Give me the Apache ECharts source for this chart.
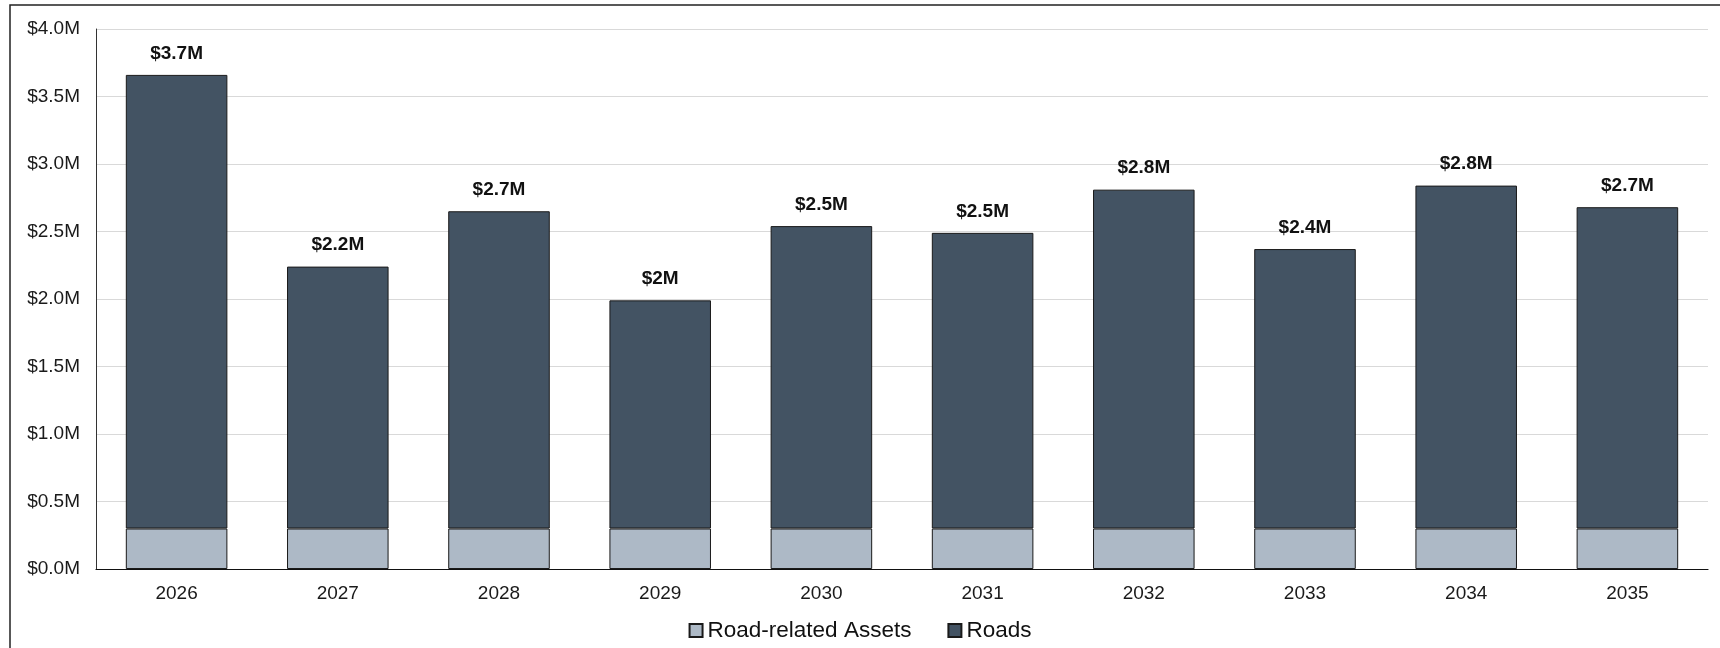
<!DOCTYPE html>
<html>
<head>
<meta charset="utf-8">
<script src="https://cdn.jsdelivr.net/npm/echarts@6/dist/echarts.min.js"></script>
<style>
  html, body { margin: 0; padding: 0; background: #fff; }
  #chart { width: 1720px; height: 648px; }
</style>
</head>
<body>
<div id="chart"></div>
<script>
// Annual spending by asset class, in $ millions
const years = ['2026', '2027', '2028', '2029', '2030', '2031', '2032', '2033', '2034', '2035'];
const roadRelatedAssets = [0.30, 0.30, 0.30, 0.30, 0.30, 0.30, 0.30, 0.30, 0.30, 0.30];
const roads = [3.36, 1.94, 2.35, 1.69, 2.24, 2.19, 2.51, 2.07, 2.54, 2.38];
const yTicks = [0, 0.5, 1.0, 1.5, 2.0, 2.5, 3.0, 3.5, 4.0];

const totals = years.map((_, i) => roadRelatedAssets[i] + roads[i]);

function totalLabel(v) {
  let s = (Math.round(v * 10) / 10).toFixed(1);
  if (s.endsWith('.0')) s = s.slice(0, -2);
  return '$' + s + 'M';
}

const font = 'Liberation Sans, Arial, sans-serif';
const chart = echarts.init(document.getElementById('chart'), null, { renderer: 'canvas' });

chart.setOption({
  backgroundColor: '#ffffff',
  animation: false,
  graphic: [{
    type: 'rect',
    shape: { x: 10, y: 5, width: 1800, height: 800 },
    style: { fill: 'none', stroke: '#222', lineWidth: 1.5 },
    silent: true
  }],
  grid: { left: 96, right: 12, top: 29, bottom: 79 },
  legend: {
    bottom: 1,
    left: 'center',
    itemWidth: 13,
    itemHeight: 13,
    itemGap: 36,
    icon: 'rect',
    textStyle: { fontFamily: font, fontSize: 22.5, color: '#111' },
    data: ['Road-related Assets', 'Roads']
  },
  xAxis: {
    type: 'category',
    data: years,
    axisTick: { show: false },
    axisLine: { lineStyle: { color: '#111', width: 1.2 } },
    axisLabel: { fontFamily: font, fontSize: 19, color: '#1a1a1a', margin: 15 }
  },
  yAxis: {
    type: 'value',
    min: yTicks[0],
    max: yTicks[yTicks.length - 1],
    interval: 0.5,
    axisLine: { show: true, lineStyle: { color: '#333', width: 1 } },
    axisTick: { show: false },
    splitLine: { lineStyle: { color: '#d9d9d9', width: 1 } },
    axisLabel: {
      fontFamily: font, fontSize: 19, color: '#1a1a1a', margin: 16,
      formatter: v => '$' + v.toFixed(1) + 'M'
    }
  },
  series: [
    {
      name: 'Road-related Assets',
      type: 'bar',
      stack: 'total',
      barWidth: '63%',
      data: roadRelatedAssets,
      itemStyle: { color: '#adb9c6', borderColor: '#1a1a1a', borderWidth: 1 }
    },
    {
      name: 'Roads',
      type: 'bar',
      stack: 'total',
      barWidth: '63%',
      data: roads,
      itemStyle: { color: '#435363', borderColor: '#1a1a1a', borderWidth: 1 },
      label: {
        show: true,
        position: 'top',
        distance: 12,
        fontFamily: font,
        fontSize: 19,
        fontWeight: 'bold',
        color: '#111',
        formatter: p => totalLabel(totals[p.dataIndex])
      }
    }
  ]
});
</script>
</body>
</html>
